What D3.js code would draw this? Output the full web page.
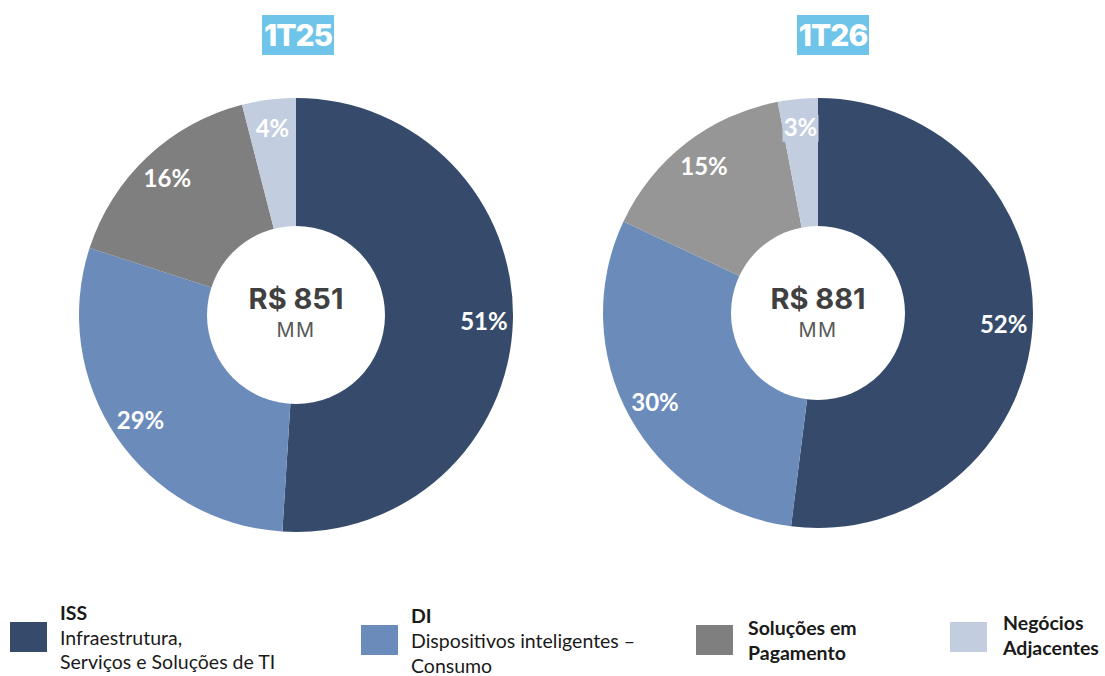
<!DOCTYPE html>
<html>
<head>
<meta charset="utf-8">
<script src="https://cdn.jsdelivr.net/npm/d3@7"></script>
<style>
  body { margin: 0; background: #fff; }
  svg { display: block; }
</style>
</head>
<body>
<svg></svg>
<script>
// data
let segments = ['ISS', 'DI', 'Soluções em Pagamento', 'Negócios Adjacentes']
let values1T25 = [51, 29, 16, 4]
let values1T26 = [52, 30, 15, 3]
let periods = ['1T25', '1T26']
let totals = ['R$ 851', 'R$ 881']

let width = 1105
let height = 676

let svg = d3.select('svg').attr('width', width).attr('height', height)

// colours of the slices, one set per pie (the grey differs)
let colors = [
    ['#364b6b', '#6b8cba', '#7f7f7f', '#c2cde0'],
    ['#364b6b', '#6b8cba', '#969696', '#c2cde0']
]

let pies = [
    { values: values1T25, cx: 296, cy: 315, r: 217, inner: 89, label: 188, tx: 298 },
    { values: values1T26, cx: 818, cy: 313, r: 215, inner: 87, label: 186, tx: 833 }
]

let pie = d3.pie().sort(null).value(d => d)

let drawPie = (p, i) => {
    let g = svg.append('g').attr('transform', 'translate(' + p.cx + ',' + p.cy + ')')
    let arc = d3.arc().innerRadius(0).outerRadius(p.r)
    let labelArc = d3.arc().innerRadius(p.label).outerRadius(p.label)
    let arcs = pie(p.values)

    g.selectAll('path')
        .data(arcs)
        .enter()
        .append('path')
        .attr('d', arc)
        .attr('fill', (d, j) => colors[i][j])

    // white hole in the middle
    g.append('circle').attr('r', p.inner).attr('fill', '#fff')

    let labels = g.selectAll('g.lbl')
        .data(arcs)
        .enter()
        .append('g')
        .attr('class', 'lbl')
        .attr('transform', d => 'translate(' + labelArc.centroid(d) + ')')

    // small slices get a box in the slice colour behind the text
    labels.filter(d => d.data < 4)
        .append('rect')
        .attr('x', -18).attr('y', -13).attr('width', 36).attr('height', 27)
        .attr('fill', (d) => colors[i][d.index])

    labels.append('text')
        .attr('text-anchor', 'middle')
        .attr('dy', '0.36em')
        .attr('font-family', 'Lato, sans-serif')
        .attr('font-weight', 'bold')
        .attr('font-size', 24)
        .attr('fill', '#fff')
        .text(d => d.data + '%')

    // centre total
    g.append('text')
        .attr('text-anchor', 'middle')
        .attr('y', 309 - p.cy)
        .attr('font-family', 'Inter, sans-serif')
        .attr('font-weight', 'bold')
        .attr('font-size', 29)
        .attr('fill', '#404040')
        .text(totals[i])
    g.append('text')
        .attr('text-anchor', 'middle')
        .attr('y', 337 - p.cy)
        .attr('font-family', 'Inter, sans-serif')
        .attr('font-size', 20)
        .attr('letter-spacing', 1.5)
        .attr('fill', '#595959')
        .text('MM')

    // period title
    let t = svg.append('g').attr('transform', 'translate(' + p.tx + ',35)')
    t.append('rect')
        .attr('x', -36).attr('y', -20).attr('width', 72).attr('height', 40)
        .attr('fill', '#6ec5e9')
    t.append('text')
        .attr('text-anchor', 'middle')
        .attr('dy', '0.36em')
        .attr('font-family', 'Inter, sans-serif')
        .attr('font-weight', 800)
        .attr('font-size', 30)
        .attr('letter-spacing', -1)
        .attr('fill', '#fff')
        .text(periods[i])
}

pies.forEach(drawPie)

// legend
let legendItems = [
    { x: 10, y: 622, tx: 60, lines: [['ISS', true, 620], ['Infraestrutura,', false, 645], ['Serviços e Soluções de TI', false, 669]] },
    { x: 361, y: 625, tx: 411, lines: [['DI', true, 623], ['Dispositivos inteligentes –', false, 648], ['Consumo', false, 673]] },
    { x: 696, y: 625, tx: 748, lines: [['Soluções em', true, 635], ['Pagamento', true, 660]] },
    { x: 950, y: 622, tx: 1003, lines: [['Negócios', true, 630], ['Adjacentes', true, 655]] }
]

let legend = svg.selectAll('g.legend')
    .data(legendItems)
    .enter()
    .append('g')
    .attr('class', 'legend')

legend.append('rect')
    .attr('x', d => d.x)
    .attr('y', d => d.y)
    .attr('width', 37)
    .attr('height', 30)
    .attr('fill', (d, j) => colors[0][j])

legend.each(function (d) {
    d3.select(this).selectAll('text')
        .data(d.lines)
        .enter()
        .append('text')
        .attr('x', d.tx)
        .attr('y', l => l[2])
        .attr('font-family', 'Lato, sans-serif')
        .attr('font-size', 19.5)
        .attr('font-weight', l => l[1] ? 'bold' : 'normal')
        .attr('fill', '#1a1a1a')
        .text(l => l[0])
})
</script>
</body>
</html>
